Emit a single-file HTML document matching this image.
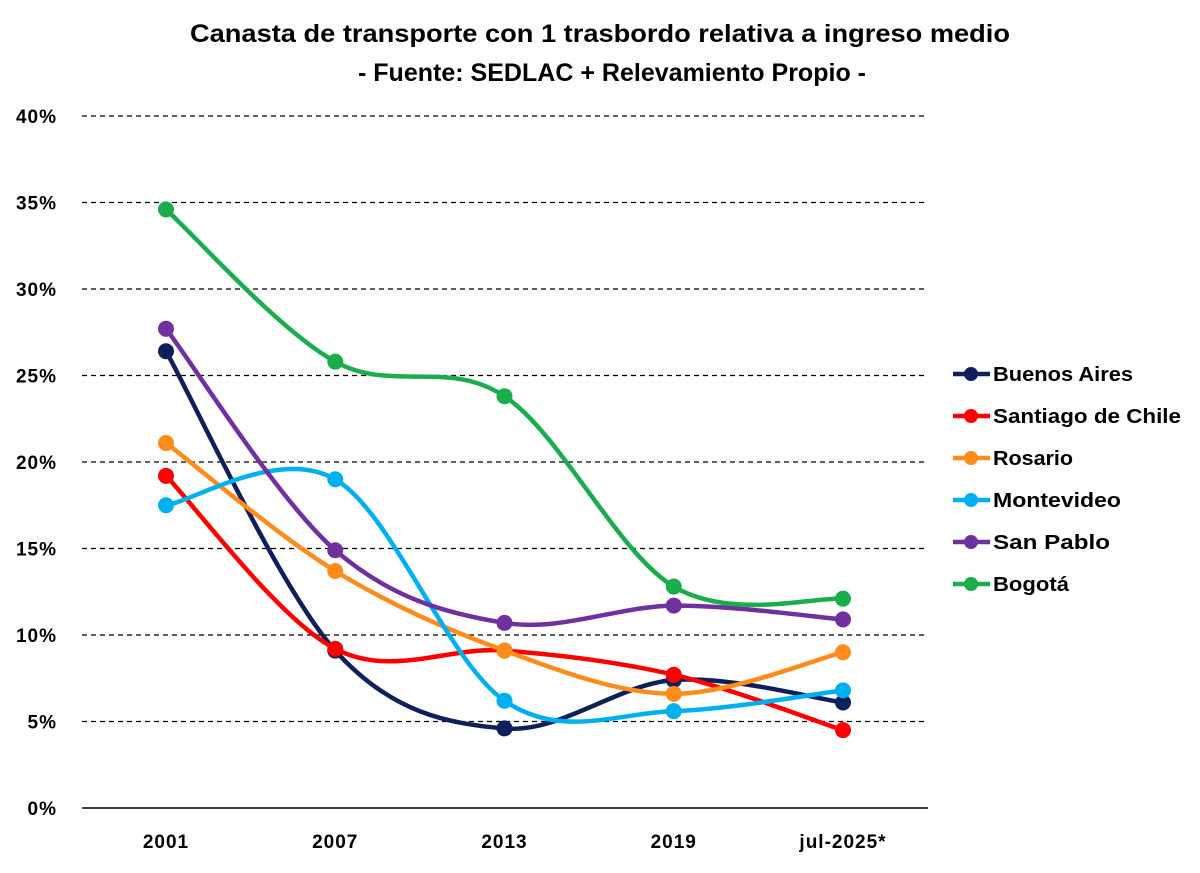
<!DOCTYPE html>
<html><head><meta charset="utf-8"><style>
body{margin:0;background:#fff;font-family:"Liberation Sans",sans-serif;}
svg text{font-family:"Liberation Sans",sans-serif;font-weight:bold;fill:#000;}
</style></head><body>
<svg id="chart" width="1200" height="868" xmlns="http://www.w3.org/2000/svg">
<text x="600" y="42" text-anchor="middle" font-size="25" textLength="820" lengthAdjust="spacingAndGlyphs">Canasta de transporte con 1 trasbordo relativa a ingreso medio</text>
<text x="612" y="81" text-anchor="middle" font-size="25" textLength="508" lengthAdjust="spacingAndGlyphs">- Fuente: SEDLAC + Relevamiento Propio -</text>
<g id="grid"></g><g id="series"></g><g id="legend"></g>
</svg>
<script>
const categories=["2001","2007","2013","2019","jul-2025*"];
const yTicks=[0,5,10,15,20,25,30,35,40];
const seriesNames=["Buenos Aires","Santiago de Chile","Rosario","Montevideo","San Pablo","Bogotá"];
const buenosAires=[26.4,9.1,4.6,7.4,6.1];
const santiago=[19.2,9.2,9.1,7.7,4.5];
const rosario=[21.1,13.7,9.1,6.6,9.0];
const montevideo=[17.5,19.0,6.2,5.6,6.8];
const sanPablo=[27.7,14.9,10.7,11.7,10.9];
const bogota=[34.6,25.8,23.8,12.8,12.1];
const allSeries=[buenosAires,santiago,rosario,montevideo,sanPablo,bogota];
const colors=["#0e1f5b","#ff0000","#ff8c1a","#00b0f0","#7030a0","#1aad4b"];
const legendWidths=[140,188,80,128,117,76];
const NS="http://www.w3.org/2000/svg";
const x=i=>166+i*169.25;
const y=v=>808-v*17.3;
const grid=document.getElementById('grid');
function mk(t,a,p){const e=document.createElementNS(NS,t);for(const k in a)e.setAttribute(k,a[k]);p.appendChild(e);return e;}
yTicks.forEach(t=>{
  const l=mk('line',{x1:82,x2:928,y1:y(t),y2:y(t),stroke:'#000','stroke-width':t===0?1.6:1.3,'stroke-dasharray':t===0?'':'5,4'},grid);
  
  
  const tx=mk('text',{x:57,y:y(t)+7,'text-anchor':'end','font-size':19,'letter-spacing':1},grid);tx.textContent=t+'%';
  
  
});
categories.forEach((c,i)=>{
  const tx=mk('text',{x:x(i),y:848,'text-anchor':'middle','font-size':19,'letter-spacing':1},grid);tx.textContent=c;
  
  
});
const sg=document.getElementById('series');
allSeries.forEach((s,k)=>{
  const p=s.map((v,i)=>[x(i),y(v)]);
  let d='M'+p[0][0]+','+p[0][1];
  for(let i=0;i<p.length-1;i++){
    const p0=p[i-1]||p[i],p1=p[i],p2=p[i+1],p3=p[i+2]||p[i+1];
    const c1=[p1[0]+(p2[0]-p0[0])/6,p1[1]+(p2[1]-p0[1])/6];
    const c2=[p2[0]-(p3[0]-p1[0])/6,p2[1]-(p3[1]-p1[1])/6];
    d+=` C${c1[0]},${c1[1]} ${c2[0]},${c2[1]} ${p2[0]},${p2[1]}`;
  }
  const path=mk('path',{d:d,fill:'none',stroke:colors[k],'stroke-width':4.5},sg);
  
  
  p.forEach(q=>{const c=mk('circle',{cx:q[0],cy:q[1],r:8,fill:colors[k]},sg);
    
    });
});
const lg=document.getElementById('legend');
seriesNames.forEach((n,k)=>{
  const yy=374+k*42;
  const l=mk('line',{x1:953,x2:990,y1:yy,y2:yy,stroke:colors[k],'stroke-width':4.5},lg);
  
  
  const c=mk('circle',{cx:971,cy:yy,r:7,fill:colors[k]},lg);
  
  
  const t=mk('text',{x:993,y:yy+7,'font-size':20,textLength:legendWidths[k],lengthAdjust:'spacingAndGlyphs'},lg);t.textContent=n;
  
  
});
</script>
</body></html>
